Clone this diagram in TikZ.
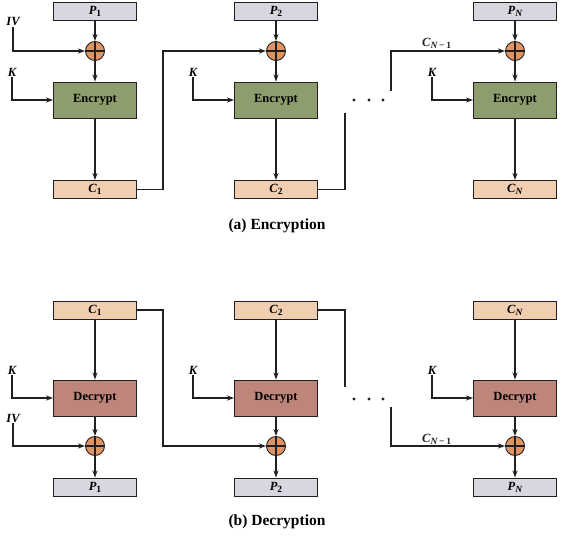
\documentclass[tikz,border=0pt]{standalone}
\usepackage{fontspec}
\setmainfont{Liberation Serif}
\usepackage{tikz}
\usetikzlibrary{arrows.meta, positioning, calc}
\definecolor{plainGray}{HTML}{D6D7DF}
\definecolor{cipherPeach}{HTML}{F2CEB1}
\definecolor{encGreen}{HTML}{8E9D6D}
\definecolor{decRose}{HTML}{BE857A}
\definecolor{xorOrange}{HTML}{DE9566}
\definecolor{lineDark}{HTML}{231F20}
% subscript a little larger than \textsubscript
\newcommand{\lowidx}[1]{\raisebox{-0.35ex}{\fontsize{9.5}{10}\selectfont #1}}

\tikzset{
  blk/.style={draw=lineDark, line width=0.9pt, minimum width=83pt, inner sep=0pt, font=\bfseries\fontsize{12.5}{14}\selectfont},
  pbox/.style={blk, fill=plainGray, minimum height=18pt},
  cbox/.style={blk, fill=cipherPeach, minimum height=18pt},
  encbox/.style={blk, fill=encGreen, minimum height=36pt},
  decbox/.style={blk, fill=decRose, minimum height=36pt},
  xorop/.style={circle, draw=lineDark, line width=0.9pt, fill=xorOrange, minimum size=19pt, inner sep=0pt,
    path picture={\draw[lineDark, line width=1.2pt] (path picture bounding box.north) -- (path picture bounding box.south)
      (path picture bounding box.west) -- (path picture bounding box.east);}},
  lbl/.style={font=\bfseries\itshape\fontsize{12.5}{14}\selectfont, inner sep=1pt},
  wire/.style={lineDark, line width=1.2pt, -{Stealth[length=7pt, width=5pt]}},
  plainwire/.style={lineDark, line width=1.2pt},
  caption/.style={font=\bfseries\fontsize{15.5}{18}\selectfont}
}

\begin{document}
\begin{tikzpicture}[x=1pt, y=-1pt]
    \useasboundingbox (0,0) rectangle (564,537);

    % (a) Encryption
    \node[pbox] (pa1) at (95,11.5) {\textit{P}\lowidx{1}};
    \node[pbox] (pa2) at (276,11.5) {\textit{P}\lowidx{2}};
    \node[pbox] (paN) at (515,11.5) {\textit{P}\lowidx{\textit{N}}};
    \node[xorop] (xa1) at (95,51) {};
    \node[xorop] (xa2) at (276,51) {};
    \node[xorop] (xaN) at (515,51) {};
    \node[encbox] (enc1) at (95,100) {Encrypt};
    \node[encbox] (enc2) at (276,100) {Encrypt};
    \node[encbox] (encN) at (515,100) {Encrypt};
    \node[cbox] (ca1) at (95,189.5) {\textit{C}\lowidx{1}};
    \node[cbox] (ca2) at (276,189.5) {\textit{C}\lowidx{2}};
    \node[cbox] (caN) at (515,189.5) {\textit{C}\lowidx{\textit{N}}};

    \node[lbl] (iva) at (13,22) {IV};
    \node[lbl] (ka1) at (12,72) {K};
    \node[lbl] (ka2) at (193,72) {K};
    \node[lbl] (kaN) at (432,72) {K};

    \draw[wire] (pa1) -- (xa1);
    \draw[wire] (pa2) -- (xa2);
    \draw[wire] (paN) -- (xaN);
    \draw[wire] (xa1) -- (enc1);
    \draw[wire] (xa2) -- (enc2);
    \draw[wire] (xaN) -- (encN);
    \draw[wire] (enc1) -- (ca1);
    \draw[wire] (enc2) -- (ca2);
    \draw[wire] (encN) -- (caN);
    \draw[wire] (iva.south) |- (xa1.west);
    \draw[wire] (ka1.south) |- (enc1.west);
    \draw[wire] (ka2.south) |- (enc2.west);
    \draw[wire] (kaN.south) |- (encN.west);

    % chaining
    \draw[wire] (ca1.east) -- ++(26,0) |- (xa2.west);
    \coordinate (enda) at (345,113);
    \draw[plainwire] (ca2.east) -| (enda);
    \coordinate (starta) at (391,91);
    \draw[wire] (starta) |- (xaN.west) node[lbl, pos=0.7, above=1pt] {C\lowidx{\textit{N}\,−\,\textup{1}}};
    \foreach \dx in {354,369,383} \fill[lineDark] (\dx,100) circle (1.7);

    \node[caption] (capa) at (277,226) {(a) Encryption};

    % (b) Decryption
    \node[cbox] (cb1) at (95,310) {\textit{C}\lowidx{1}};
    \node[cbox] (cb2) at (276,310) {\textit{C}\lowidx{2}};
    \node[cbox] (cbN) at (515,310) {\textit{C}\lowidx{\textit{N}}};
    \node[decbox] (dec1) at (95,398) {Decrypt};
    \node[decbox] (dec2) at (276,398) {Decrypt};
    \node[decbox] (decN) at (515,398) {Decrypt};
    \node[xorop] (xb1) at (95,446) {};
    \node[xorop] (xb2) at (276,446) {};
    \node[xorop] (xbN) at (515,446) {};
    \node[pbox] (pb1) at (95,487) {\textit{P}\lowidx{1}};
    \node[pbox] (pb2) at (276,487) {\textit{P}\lowidx{2}};
    \node[pbox] (pbN) at (515,487) {\textit{P}\lowidx{\textit{N}}};

    \node[lbl] (kb1) at (12,370) {K};
    \node[lbl] (kb2) at (193,370) {K};
    \node[lbl] (kbN) at (432,370) {K};
    \node[lbl] (ivb) at (13,418) {IV};

    \draw[wire] (cb1) -- (dec1);
    \draw[wire] (cb2) -- (dec2);
    \draw[wire] (cbN) -- (decN);
    \draw[wire] (dec1) -- (xb1);
    \draw[wire] (dec2) -- (xb2);
    \draw[wire] (decN) -- (xbN);
    \draw[wire] (xb1) -- (pb1);
    \draw[wire] (xb2) -- (pb2);
    \draw[wire] (xbN) -- (pbN);
    \draw[wire] (kb1.south) |- (dec1.west);
    \draw[wire] (kb2.south) |- (dec2.west);
    \draw[wire] (kbN.south) |- (decN.west);
    \draw[wire] (ivb.south) |- (xb1.west);

    % chaining
    \draw[wire] (cb1.east) -- ++(26,0) |- (xb2.west);
    \coordinate (endb) at (345,387);
    \draw[plainwire] (cb2.east) -| (endb);
    \coordinate (startb) at (391,407);
    \draw[wire] (startb) |- (xbN.west) node[lbl, pos=0.7, above=0pt] {C\lowidx{\textit{N}\,−\,\textup{1}}};
    \foreach \dx in {354,369,383} \fill[lineDark] (\dx,399) circle (1.7);

    \node[caption] (capb) at (277,522) {(b) Decryption};
\end{tikzpicture}
\end{document}
